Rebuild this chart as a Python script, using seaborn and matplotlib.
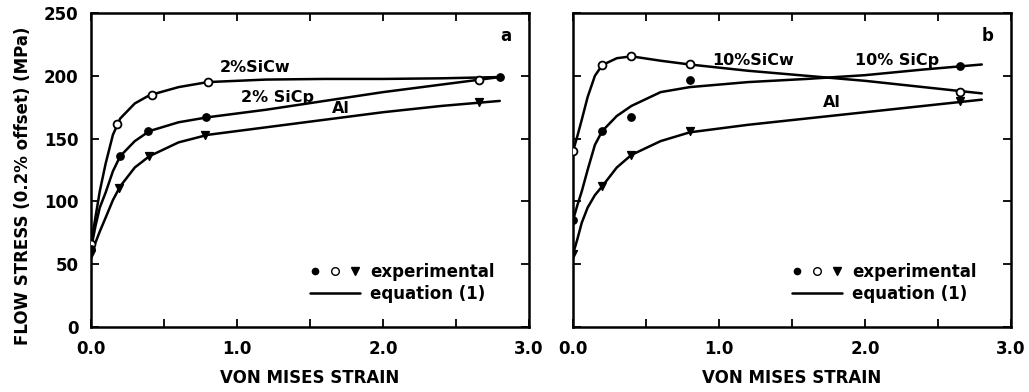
import numpy as np
import pandas as pd
import matplotlib
matplotlib.use("Agg")
import matplotlib.pyplot as plt
import seaborn as sns
from matplotlib.lines import Line2D
from matplotlib.legend_handler import HandlerTuple

# ---------------- data ----------------
curve_strain = [0, 0.03, 0.06, 0.1, 0.15, 0.2, 0.3, 0.4, 0.6, 0.8, 1.2, 1.6, 2.0, 2.4, 2.8]

a_sicw_curve = [66, 87, 108, 130, 153, 166, 178, 184.5, 191, 195, 197, 197.5, 197.5, 198, 199]
a_sicp_curve = [62, 80, 95, 107, 124, 136, 148, 156, 163, 167, 173, 180, 187, 193, 199]
a_al_curve = [58, 67, 76, 87, 101, 112, 127, 136, 147, 153, 159, 165, 171, 176, 180]

b_sicw_curve = [140, 152, 165, 183, 200, 208.5, 214, 215.5, 212, 209, 204, 200, 196, 191, 186]
b_sicp_curve = [85, 97, 108, 125, 145, 156, 168, 176, 187, 191, 195, 197.5, 200.5, 205, 209]
b_al_curve = [58, 70, 83, 95, 105, 112, 127, 137, 148, 155, 161, 166, 171, 176, 181]

a_sicw_pts_x = [0, 0.18, 0.42, 0.80, 2.66]
a_sicw_pts_y = [66, 162, 185, 195, 197]
a_sicp_pts_x = [0, 0.20, 0.39, 0.79, 2.80]
a_sicp_pts_y = [62, 136, 156, 167, 199]
a_al_pts_x = [0, 0.19, 0.40, 0.78, 2.66]
a_al_pts_y = [58, 111, 136, 153, 179]

b_sicw_pts_x = [0, 0.20, 0.40, 0.80, 2.65]
b_sicw_pts_y = [140, 208.5, 216, 209, 187]
b_sicp_pts_x = [0, 0.20, 0.40, 0.80, 2.65]
b_sicp_pts_y = [85, 156, 167, 197, 208]
b_al_pts_x = [0, 0.20, 0.40, 0.80, 2.65]
b_al_pts_y = [58, 112, 137, 156, 180]

labels_a = ["2%SiCw", "2% SiCp", "Al"]
labels_a_x = [0.88, 1.03, 1.65]
labels_a_y = [201, 177, 168]
labels_b = ["10%SiCw", "10% SiCp", "Al"]
labels_b_x = [0.95, 1.93, 1.71]
labels_b_y = [206, 206, 173]

x_ticks = [0.0, 1.0, 2.0, 3.0]
x_tick_labels = ["0.0", "1.0", "2.0", "3.0"]
x_minor = [0.5, 1.5, 2.5]
y_ticks = [0, 50, 100, 150, 200, 250]

# ---------------- style ----------------
sns.set_style("ticks")
plt.rcParams["font.family"] = ["DejaVu Sans"]
plt.rcParams["font.weight"] = "bold"
plt.rcParams["text.color"] = "black"
plt.rcParams["axes.labelcolor"] = "black"
plt.rcParams["xtick.color"] = "black"
plt.rcParams["ytick.color"] = "black"
plt.rcParams["xtick.labelcolor"] = "black"
plt.rcParams["ytick.labelcolor"] = "black"

FS = 12
W, H = 1029, 392
fig = plt.figure(figsize=(W / 100, H / 100), dpi=100)
ax_a = fig.add_axes([91 / W, 65 / H, 438 / W, 314 / H])
ax_b = fig.add_axes([573 / W, 65 / H, 438 / W, 314 / H])

def draw_panel(ax, curves, pts, labels, lx, ly, letter):
    for ys in curves:
        df = pd.DataFrame({"strain": curve_strain, "stress": ys})
        sns.lineplot(data=df, x="strain", y="stress", ax=ax, color="black",
                     linewidth=1.8, estimator=None, sort=True)
    marker_styles = [
        dict(marker="o", facecolor="white", edgecolor="black", s=32, linewidth=1.3),
        dict(marker="o", facecolor="black", edgecolor="black", s=28, linewidth=1.0),
        dict(marker="v", facecolor="black", edgecolor="black", s=32, linewidth=1.0),
    ]
    for (px, py), st in zip(pts, marker_styles):
        df = pd.DataFrame({"strain": px, "stress": py})
        sns.scatterplot(data=df, x="strain", y="stress", ax=ax, zorder=5, **st)
    for t, x, y in zip(labels, lx, ly):
        ax.text(x, y, t, fontsize=11.5, fontweight="bold", ha="left", va="bottom",
                color="black")
    ax.text(2.84, 232, letter, fontsize=FS, fontweight="bold", ha="center", va="center",
            color="black")

    ax.set_xlim(0, 3.0)
    ax.set_ylim(0, 250)
    ax.set_xticks(x_ticks)
    ax.set_xticks(x_minor, minor=True)
    ax.set_yticks(y_ticks)
    ax.tick_params(axis="both", which="both", direction="in", top=True, right=True,
                   length=6, width=1.3, color="black", labelcolor="black",
                   labelsize=FS, pad=9)
    for s in ax.spines.values():
        s.set_linewidth(1.8)
        s.set_color("black")
    ax.set_xlabel("VON MISES STRAIN", fontsize=FS, fontweight="bold", labelpad=8,
                  color="black")
    ax.set_ylabel("")

    h1 = Line2D([], [], marker="o", color="black", linestyle="none", markersize=4.5)
    h2 = Line2D([], [], marker="o", markerfacecolor="white", markeredgecolor="black",
                linestyle="none", markersize=5.5)
    h3 = Line2D([], [], marker="v", color="black", linestyle="none", markersize=5.5)
    h4 = Line2D([], [], color="black", linewidth=1.8)
    leg = ax.legend([(h1, h2, h3), h4], ["experimental", "equation (1)"],
                    handler_map={tuple: HandlerTuple(ndivide=None, pad=0.6)},
                    loc="lower right", bbox_to_anchor=(0.94, 0.05), frameon=False,
                    handlelength=3.0, handletextpad=0.6, labelspacing=0.25, borderpad=0,
                    prop={"size": FS, "weight": "bold"})
    for t in leg.get_texts():
        t.set_color("black")

draw_panel(ax_a, [a_sicw_curve, a_sicp_curve, a_al_curve],
           [(a_sicw_pts_x, a_sicw_pts_y), (a_sicp_pts_x, a_sicp_pts_y), (a_al_pts_x, a_al_pts_y)],
           labels_a, labels_a_x, labels_a_y, "a")
draw_panel(ax_b, [b_sicw_curve, b_sicp_curve, b_al_curve],
           [(b_sicw_pts_x, b_sicw_pts_y), (b_sicp_pts_x, b_sicp_pts_y), (b_al_pts_x, b_al_pts_y)],
           labels_b, labels_b_x, labels_b_y, "b")

ax_a.set_xticklabels(x_tick_labels)
ax_b.set_xticklabels(x_tick_labels)
ax_b.set_yticklabels([])
ax_a.set_ylabel("FLOW STRESS (0.2% offset) (MPa)", fontsize=FS, fontweight="bold",
                color="black")
ax_a.yaxis.set_label_coords(-0.135, 0.45)

fig.savefig("out.png", dpi=100, facecolor="white")
